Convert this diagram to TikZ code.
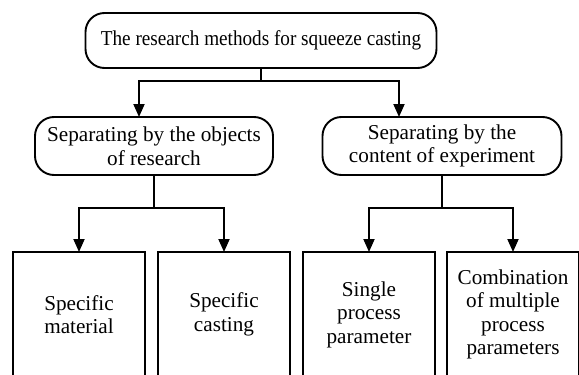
\documentclass[tikz,border=0pt]{standalone}
\usepackage{fontspec}
\setmainfont{Liberation Serif}
\usetikzlibrary{arrows.meta}
\begin{document}
\begin{tikzpicture}[x=1pt,y=-1pt,
  every node/.style={font=\fontsize{21.2}{23.5}\selectfont, align=center, inner sep=0pt, outer sep=0pt},
  rbox/.style={draw, line width=1.9pt, rounded corners=19pt},
  sbox/.style={draw, line width=1.9pt, minimum width=132pt, minimum height=125pt, anchor=north},
  link/.style={line width=1.9pt},
  arr/.style={line width=1.9pt, -{Triangle[length=13pt,width=11pt]}}]
\clip (0,0) rectangle (579,375);
\fill[white] (0,0) rectangle (579,375);
\node[rbox, minimum width=351pt, minimum height=55pt] (top) at (261,40.5) {\scalebox{0.905}[1]{The research methods for squeeze casting}};
\node[rbox, minimum width=238pt, minimum height=58pt] (ml) at (154,146) {Separating by the objects\\of research};
\node[rbox, minimum width=239pt, minimum height=58pt] (mr) at (442,146) {Separating by the\\content of experiment};
\node[sbox] (b1) at (79,252) {Specific\\material};
\node[sbox] (b2) at (224,252) {Specific\\casting};
\node[sbox] (b3) at (369,252) {Single\\process\\parameter};
\node[sbox] (b4) at (513,252) {Combination\\of multiple\\process\\parameters};
% top level connectors
\draw[link] (top.south) -- ++(0,13) coordinate (j1);
\draw[arr] (j1) -| ([xshift=-15pt]ml.north);
\draw[arr] (j1) -| ([xshift=-43pt]mr.north);
% left branch
\draw[link] (ml.south) -- ++(0,33) coordinate (j2);
\draw[arr] (j2) -| (b1.north);
\draw[arr] (j2) -| (b2.north);
% right branch
\draw[link] (mr.south) -- ++(0,33) coordinate (j3);
\draw[arr] (j3) -| (b3.north);
\draw[arr] (j3) -| (b4.north);
\end{tikzpicture}
\end{document}
